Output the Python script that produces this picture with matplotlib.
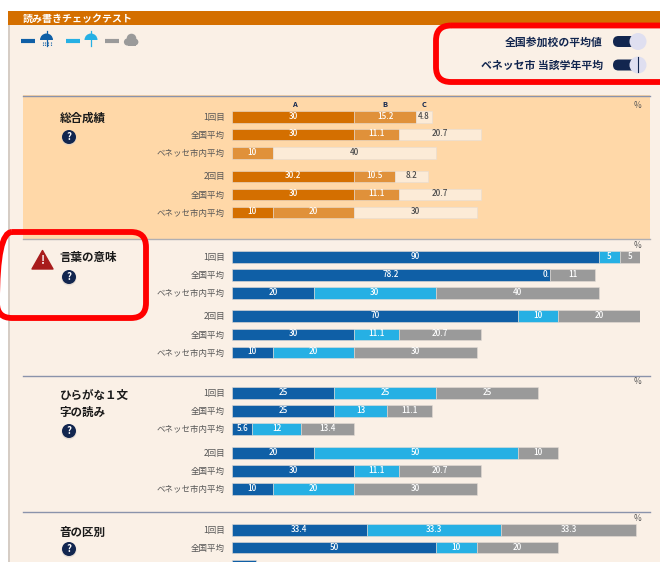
from __future__ import annotations

import matplotlib
matplotlib.use("Agg")
import matplotlib.pyplot as plt
from matplotlib.patches import Circle, FancyBboxPatch, Polygon, Rectangle, Wedge

plt.rcParams["font.family"] = ["Noto Sans CJK JP", "DejaVu Sans"]

W, H = 660, 562

ROW_LABELS = ["1回目", "全国平均", "ベネッセ市内平均", "2回目", "全国平均", "ベネッセ市内平均"]
LABELS_S4 = ["1回目", "全国平均", "ベネッセ市内平均"]

# section values, one list per segment (A / B / C)
total_a = [30, 30, 0, 30.2, 30, 10]
total_b = [15.2, 11.1, 10, 10.5, 11.1, 20]
total_c = [4.8, 20.7, 40, 8.2, 20.7, 30]

meaning_a = [90, 78.2, 20, 70, 30, 10]
meaning_b = [5, 0.3, 30, 10, 11.1, 20]
meaning_c = [5, 11, 40, 20, 20.7, 30]

kana_a = [25, 25, 5.6, 20, 30, 10]
kana_b = [25, 13, 12, 50, 11.1, 20]
kana_c = [25, 11.1, 13.4, 10, 20.7, 30]

sound_a = [33.4, 50, 6]
sound_b = [33.3, 10, 0]
sound_c = [33.3, 20, 0]

ORANGES = ["#D46F00", "#E0913A", "#FCEBD7"]
BLUES = ["#0F5FA6", "#26B0E4", "#9A9A9A"]
NAVY = "#12264F"
BG = "#FAF0E6"

ROWS_TOTAL = [117, 134.5, 153, 176.5, 194.5, 212.5]
ROWS_MEANING = [257, 275, 293, 316, 334.5, 352.5]
ROWS_KANA = [393, 411, 429, 453, 471, 489]
ROWS_SOUND = [530, 547.5, 566]


def draw_bars(ax, base, rows, labels, values, colors, text_colors):
    for y, label, a, b, c in zip(rows, labels, *values):
        base.text(225, y + 0.5, label, ha="right", va="center", fontsize=6.1, color="#555555", clip_on=True)
        left = 0
        for v, color, tc in zip((a, b, c), colors, text_colors):
            if v == 0:
                continue
            # the page truncates segment widths to whole percents, labels keep the decimal
            width = int(v)
            if width == 0:
                ax.text(left, y - 0.5, "0.", ha="right", va="center", fontsize=5.8, color=tc, fontweight="medium")
                continue
            ax.barh(y, width, left=left, height=11.5, color=color, edgecolor="#E4DCD6", linewidth=0.4)
            # last row runs off the page, its value is not visible
            if y + 4 < H:
                ax.text(left + width / 2, y - 0.5, f"{v:g}", ha="center", va="center", fontsize=5.8, color=tc, fontweight="medium")
            left += width


def help_icon(base, y):
    base.add_patch(Circle((69, y + 1), 7.5, color="#D8CFC8", alpha=0.6, lw=0))
    base.add_patch(Circle((69, y), 7, color=NAVY, lw=0))
    base.text(69, y, "?", ha="center", va="center", fontsize=7, color="white", fontweight="bold")


def umbrella(base, x, y, color, rain=False):
    base.add_patch(Wedge((x, y), 6.5, 180, 360, color=color, lw=0, transform=base.transData))
    base.plot([x, x], [y - 9, y + 6], color=color, lw=0.9)
    if rain:
        for dx in (-4, -1.5, 1.5, 4):
            base.plot([x + dx, x + dx], [y + 2, y + 6], color=color, lw=0.8, ls=(0, (1, 1)))


def red_box(base, x, y, w, h):
    base.add_patch(FancyBboxPatch((x, y), w, h, boxstyle="round,pad=0,rounding_size=15",
                                  fc="none", ec="#FF0000", lw=4.2, zorder=10))


fig = plt.figure(figsize=(W / 100, H / 100), dpi=100, facecolor="white")
base = fig.add_axes([0, 0, 1, 1])
base.set_xlim(0, W)
base.set_ylim(H, 0)
base.axis("off")

# page furniture
base.add_patch(Rectangle((8, 11), W - 8, H - 11, color=BG, lw=0))
base.add_patch(Rectangle((8, 25), 2, H - 25, color="#D6CDC5", lw=0))
base.add_patch(Rectangle((8, 11), W - 8, 14, color="#D46F00", lw=0))
base.text(23, 18.5, "読み書きチェックテスト", ha="left", va="center", fontsize=7.2, color="white", fontweight="bold")

# legend
base.plot([21, 35], [40.5, 40.5], color=BLUES[0], lw=3, solid_capstyle="butt")
umbrella(base, 46.5, 40, BLUES[0], rain=True)
base.plot([66, 80], [40.5, 40.5], color=BLUES[1], lw=3, solid_capstyle="butt")
umbrella(base, 91, 40, BLUES[1])
base.plot([105, 119], [40.5, 40.5], color=BLUES[2], lw=3, solid_capstyle="butt")
for cx, cy, r in [(127.5, 42, 3.6), (131.5, 38.5, 4.8), (135, 42, 3.4)]:
    base.add_patch(Circle((cx, cy), r, color=BLUES[2], lw=0))
base.add_patch(Rectangle((127.5, 41), 8, 4.5, color=BLUES[2], lw=0))

# toggles
for y, label in [(41.5, "全国参加校の平均値"), (65, "ベネッセ市 当該学年平均")]:
    base.text(603, y + 0.5, label, ha="right", va="center", fontsize=7.8, color=NAVY, fontweight="bold")
    base.add_patch(FancyBboxPatch((613, y - 5.5), 24, 11, boxstyle="round,pad=0,rounding_size=5.5", fc=NAVY, ec="none"))
    base.add_patch(Circle((638, y), 8.5, color="#DFDFF0", lw=0))
base.plot([637.5, 637.5], [57, 72], color=NAVY, lw=0.8)

# section panels
base.add_patch(Rectangle((23, 95), 627, 143.5, color="#FFD8A8", lw=0))
for y, color in [(95.5, "#8A93AB"), (239, "#B0AFB3"), (375.5, "#8A93AB"), (511.5, "#8A93AB")]:
    base.plot([23, 650], [y, y], color=color, lw=1)

# section titles
base.text(59.5, 118, "総合成績", ha="left", va="center", fontsize=8.3, color="#1A1A1A", fontweight="bold")
help_icon(base, 137)
base.text(59.5, 258, "言葉の意味", ha="left", va="center", fontsize=8.3, color="#1A1A1A", fontweight="bold")
help_icon(base, 277)
base.text(59.5, 395, "ひらがな１文", ha="left", va="center", fontsize=8.3, color="#1A1A1A", fontweight="bold")
base.text(59.5, 412, "字の読み", ha="left", va="center", fontsize=8.3, color="#1A1A1A", fontweight="bold")
help_icon(base, 431)
base.text(59.5, 532, "音の区別", ha="left", va="center", fontsize=8.3, color="#1A1A1A", fontweight="bold")
help_icon(base, 549)

# warning sign
base.add_patch(Polygon([(42.5, 250.5), (53, 269), (32, 269)], closed=True, fc="#A81C1C", ec="#A81C1C", lw=1, joinstyle="round"))
base.text(42.5, 261, "!", ha="center", va="center", fontsize=8, color="white", fontweight="bold")

# column heads and % marks
for x, label in [(294, "A"), (385, "B"), (424, "C")]:
    base.text(x, 104.5, label, ha="center", va="center", fontsize=5.4, color=NAVY, fontweight="bold")
for y in [105.5, 246, 382, 518.5]:
    base.text(637, y, "%", ha="center", va="center", fontsize=6, color="#555555")

# bars share a percent scale: 0 at x=232, 100 at x=640
bars = fig.add_axes([232 / W, 0, (640 - 232) / W, 1])
bars.set_xlim(0, 100)
bars.set_ylim(H, 0)
bars.axis("off")
bars.patch.set_alpha(0)

draw_bars(bars, base, ROWS_TOTAL, ROW_LABELS, (total_a, total_b, total_c), ORANGES, ["white", "white", "#4A4A4A"])
blue_text = ["white", "white", "white"]
draw_bars(bars, base, ROWS_MEANING, ROW_LABELS, (meaning_a, meaning_b, meaning_c), BLUES, blue_text)
draw_bars(bars, base, ROWS_KANA, ROW_LABELS, (kana_a, kana_b, kana_c), BLUES, blue_text)
draw_bars(bars, base, ROWS_SOUND, LABELS_S4, (sound_a, sound_b, sound_c), BLUES, blue_text)

# red annotation boxes
red_box(base, 436, 25.5, 260, 56.5)
red_box(base, -3, 232, 149, 86)

fig.savefig("out.png", dpi=100)
plt.close(fig)
